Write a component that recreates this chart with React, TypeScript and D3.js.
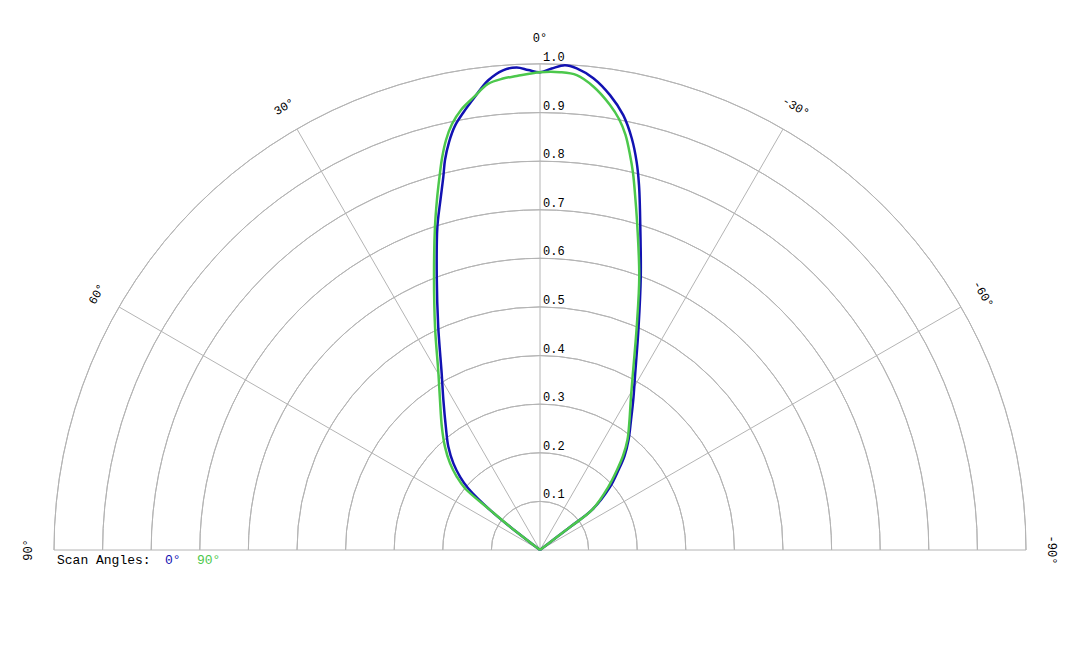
import { useEffect, useRef } from "react";
import * as d3 from "d3";

// Scan angle 0° (blue): polar angle in degrees (positive = left) and relative gain
const blueAngles = [
  53, 52.2, 51.3, 49.3, 47.5, 45.0, 41.6, 37.4, 32.8, 29.1, 24.5, 20.7, 17.64,
  15.87, 14.53, 13.69, 12.57, 11.34, 9.99, 8.17, 6.32, 4.41, 2.77, 1.4, 0,
  -1.39, -2.95, -4.36, -6.45, -8.75, -10.84, -12.56, -13.98, -15.18, -16.39,
  -17.96, -20.25, -23.83, -28.7, -31.9, -35.0, -38.82, -41.95, -44.46, -48.0,
  -52.4, -52.6, -53,
];
const blueGain = [
  0, 0.078, 0.132, 0.195, 0.223, 0.252, 0.284, 0.319, 0.367, 0.416, 0.505,
  0.601, 0.697, 0.749, 0.793, 0.826, 0.86, 0.89, 0.913, 0.942, 0.972, 0.99,
  0.994, 0.988, 0.983, 0.991, 0.999, 0.994, 0.977, 0.947, 0.911, 0.868, 0.823,
  0.778, 0.729, 0.671, 0.599, 0.502, 0.407, 0.363, 0.3265, 0.2905, 0.26,
  0.2306, 0.194, 0.135, 0.078, 0,
];

// Scan angle 90° (green)
const greenAngles = [
  52.8, 52.2, 51.3, 50.56, 48.65, 46.07, 42.6, 38.56, 33.69, 29.92, 25.21,
  21.2, 18.01, 16.4, 15.08, 14.04, 12.91, 11.67, 10.18, 8.29, 6.37, 4.49, 2.81,
  0, -2.39, -4.42, -6.56, -8.94, -10.39, -11.64, -12.84, -13.86, -15.26,
  -16.75, -19.97, -23.41, -28.14, -31.16, -34.54, -38.5, -41.44, -43.9,
  -47.31, -52.4, -52.6, -52.8,
];
const greenGain = [
  0, 0.078, 0.132, 0.2, 0.228, 0.257, 0.289, 0.324, 0.371, 0.419, 0.507,
  0.603, 0.699, 0.751, 0.795, 0.831, 0.8655, 0.895, 0.92, 0.942, 0.965,
  0.973, 0.9765, 0.983, 0.984, 0.98, 0.96, 0.927, 0.9016, 0.872, 0.8336,
  0.799, 0.7465, 0.695, 0.598, 0.501, 0.404, 0.361, 0.3248, 0.289, 0.258,
  0.2285, 0.191, 0.135, 0.078, 0,
];

const ringTicks = [0.1, 0.2, 0.3, 0.4, 0.5, 0.6, 0.7, 0.8, 0.9, 1.0];
const spokeAngles = [90, 60, 30, 0, -30, -60, -90];

const seriesNames = ["0°", "90°"];
const seriesColors = ["#1212b2", "#4cc84c"];

export default function App() {
  const svgRef = useRef<SVGSVGElement>(null);

  useEffect(() => {
    const svg = d3.select(svgRef.current);
    svg.selectAll("*").remove();

    const width = 1080;
    const height = 648;
    const cx = 540;
    const cy = 550;
    const outer = 486;
    const font = "'Liberation Mono', 'Courier New', monospace";

    const r = d3.scaleLinear().domain([0, 1]).range([0, outer]);
    // polar angle in degrees (0 = up, positive = left) -> radians for d3 (clockwise from up)
    const toRad = (deg: number) => (-deg * Math.PI) / 180;

    svg.attr("width", width).attr("height", height);
    const g = svg.append("g").attr("transform", `translate(${cx},${cy})`);

    // rings
    const arc = d3
      .arc<number>()
      .innerRadius((d) => r(d))
      .outerRadius((d) => r(d))
      .startAngle(-Math.PI / 2)
      .endAngle(Math.PI / 2);
    g.selectAll(".ring")
      .data(ringTicks)
      .enter()
      .append("path")
      .attr("d", (d) => arc(d) as string)
      .attr("fill", "none")
      .attr("stroke", "#b4b4b4")
      .attr("stroke-width", 1);

    // spokes
    g.selectAll(".spoke")
      .data(spokeAngles)
      .enter()
      .append("line")
      .attr("x1", 0)
      .attr("y1", 0)
      .attr("x2", (d) => r(1) * Math.sin(toRad(d)))
      .attr("y2", (d) => -r(1) * Math.cos(toRad(d)))
      .attr("stroke", "#b4b4b4")
      .attr("stroke-width", 1);

    // ring labels
    g.selectAll(".rlabel")
      .data(ringTicks)
      .enter()
      .append("text")
      .attr("x", 3)
      .attr("y", (d) => -r(d) - 3)
      .attr("font-family", font)
      .attr("font-size", 12)
      .attr("fill", "#000")
      .text((d) => d.toFixed(1));

    // angle labels
    const labelR = outer + 25;
    g.selectAll(".alabel")
      .data(spokeAngles)
      .enter()
      .append("text")
      .attr("transform", (d) => {
        const x = labelR * Math.sin(toRad(d));
        const y = -labelR * Math.cos(toRad(d));
        return `translate(${x},${y}) rotate(${-d})`;
      })
      .attr("text-anchor", "middle")
      .attr("dominant-baseline", "central")
      .attr("font-family", font)
      .attr("font-size", 12)
      .attr("fill", "#000")
      .text((d) => `${d}°`);

    // curves
    const line = d3
      .lineRadial<[number, number]>()
      .angle((d) => toRad(d[0]))
      .radius((d) => r(d[1]))
      .curve(d3.curveCatmullRom.alpha(0.5));

    const series: [number, number][][] = [
      blueAngles.map((a, i) => [a, blueGain[i]]),
      greenAngles.map((a, i) => [a, greenGain[i]]),
    ];

    series.forEach((pts, i) => {
      g.append("path")
        .attr("d", line(pts) as string)
        .attr("fill", "none")
        .attr("stroke", seriesColors[i])
        .attr("stroke-width", 2.5)
        .attr("stroke-linejoin", "round");
    });

    // legend
    const legend = svg
      .append("g")
      .attr("font-family", font)
      .attr("font-size", 13);
    legend
      .append("text")
      .attr("x", 57)
      .attr("y", 564)
      .attr("fill", "#000")
      .text("Scan Angles:");
    const legendX = [165, 197];
    seriesNames.forEach((name, i) => {
      legend
        .append("text")
        .attr("x", legendX[i])
        .attr("y", 564)
        .attr("fill", seriesColors[i])
        .text(name);
    });
  }, []);

  return (
    <svg
      ref={svgRef}
      style={{ position: "absolute", left: 0, top: 0, background: "#fff" }}
    ></svg>
  );
}
